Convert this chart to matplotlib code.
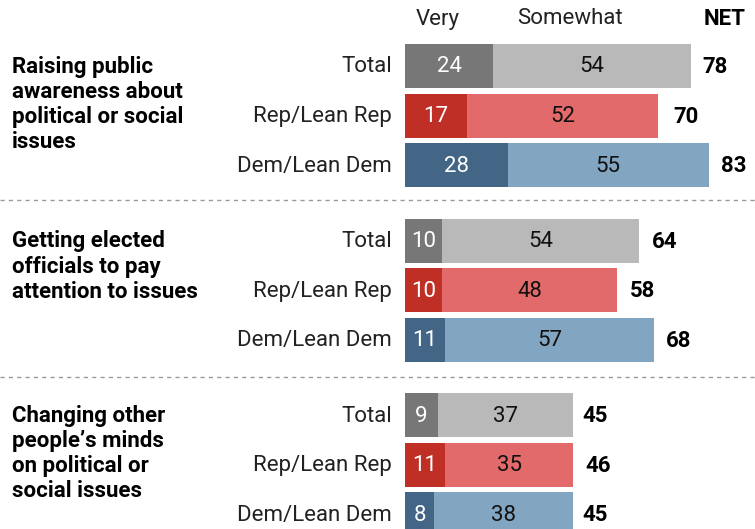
import matplotlib.pyplot as plt

plt.rcParams['font.family'] = ['Roboto', 'DejaVu Sans']

# data
topics = ['Raising public\nawareness about\npolitical or social\nissues',
          'Getting elected\nofficials to pay\nattention to issues',
          'Changing other\npeople\u2019s minds\non political or\nsocial issues']
groups = ['Total', 'Rep/Lean Rep', 'Dem/Lean Dem']
very = [[24, 17, 28], [10, 10, 11], [9, 11, 8]]
somewhat = [[54, 52, 55], [54, 48, 57], [37, 35, 38]]
net = [[78, 70, 83], [64, 58, 68], [45, 46, 45]]

dark = ['#777777', '#bf2f25', '#436586']
light = ['#b9b9b9', '#e36a6a', '#82a6c1']

W, H = 755, 529
fig = plt.figure(figsize=(W / 100, H / 100), dpi=100)
ax = fig.add_axes([0, 0, 1, 1])
ppu = 3.663        # pixels per percentage point
x0 = 405           # pixel x of bar start
ax.set_xlim(-x0 / ppu, (W - x0) / ppu)
ax.set_ylim(H, 0)  # y in pixels
ax.axis('off')

row_h = 49.7
grp_h = 174.5
bar_h = 44
fs = 16

for g in range(3):
    y_top = 66 + g * grp_h
    for r in range(3):
        y = y_top + r * row_h
        v, s, n = very[g][r], somewhat[g][r], net[g][r]
        ax.barh(y, v, height=bar_h, color=dark[r], left=0)
        ax.barh(y, s, height=bar_h, color=light[r], left=v)
        ax.text(v / 2, y + 1, str(v), ha='center', va='center', color='white', fontsize=fs)
        ax.text(v + s / 2, y + 1, str(s), ha='center', va='center', color='#111111', fontsize=fs)
        ax.text(n + 3.3, y + 1, str(n), ha='left', va='center', color='black',
                fontsize=fs, fontweight='bold')
        ax.text(-13 / ppu, y + 1, groups[r], ha='right', va='center', color='#222222', fontsize=fs)
    ax.text(-393 / ppu, y_top - 10, topics[g], ha='left', va='top', fontsize=fs,
            fontweight='bold', color='black', linespacing=1.18)

# separators
for yy in [200, 377]:
    ax.plot([-x0 / ppu, (W - x0) / ppu], [yy, yy], ls=(0, (3, 3)), color='#999999', lw=1)

# header
ax.text(9, 19, 'Very', ha='center', va='center', fontsize=fs, color='#222222')
ax.text(45, 19, 'Somewhat', ha='center', va='center', fontsize=fs, color='#222222')
ax.text(87.2, 19, 'NET', ha='center', va='center', fontsize=fs, fontweight='bold', color='black')

fig.savefig('out.png', dpi=100)
